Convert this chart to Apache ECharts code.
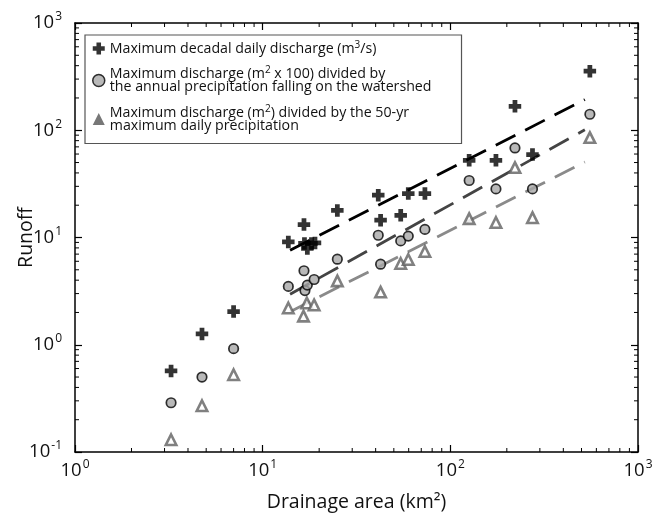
<!DOCTYPE html>
<html>
<head>
<meta charset="utf-8">
<script src="https://cdn.jsdelivr.net/npm/echarts@6/dist/echarts.min.js"></script>
<style>
html,body{margin:0;padding:0;background:#fff;}
#chart{width:652px;height:513px;}
</style>
</head>
<body>
<div id="chart"></div>
<script>
// Maximum decadal daily discharge (m3/s)
const decadalArea = [3.25, 4.75, 7.0, 13.7, 16.6, 16.7, 17.3, 18.2, 19.0, 25.0, 41.3, 42.5, 54.4, 59.7, 73.2, 126, 175, 221, 274, 554];
const decadalQ    = [0.57, 1.26, 2.04, 9.1, 13.2, 8.8, 7.9, 8.8, 8.9, 17.9, 24.8, 14.5, 16.1, 25.7, 25.7, 52.5, 52.5, 167, 59.4, 355];
// Maximum discharge (m2 x 100) / annual precipitation
const annualArea = [3.25, 4.75, 7.0, 13.7, 16.6, 16.8, 17.3, 18.8, 25.0, 41.3, 42.5, 54.4, 59.7, 73.2, 126, 175, 221, 274, 554];
const annualQ    = [0.288, 0.50, 0.92, 3.5, 4.9, 3.2, 3.6, 4.06, 6.28, 10.5, 5.64, 9.3, 10.3, 11.9, 34, 28.4, 68.4, 28.4, 141];
// Maximum discharge (m2) / 50-yr max daily precipitation
const precipArea = [3.25, 4.75, 7.0, 13.7, 16.5, 17.2, 18.8, 25.0, 42.5, 54.4, 59.7, 73.2, 126, 175, 221, 274, 554];
const precipQ    = [0.13, 0.27, 0.525, 2.2, 1.85, 2.45, 2.35, 3.94, 3.1, 5.72, 6.24, 7.4, 15.0, 13.8, 44.9, 15.3, 85.5];
// Fitted trend lines (end points)
const trendArea = [14, 521];
const trendDecadal = [7.6, 193];
const trendAnnual = [2.96, 101];
const trendPrecip = [2.03, 50.7];
// Axis settings
const xTicks = [1, 10, 100, 1000];
const yTicks = [0.1, 1, 10, 100, 1000];
const minorMult = [2, 3, 4, 5, 6, 7, 8, 9];

const names = [
  'Maximum decadal daily discharge (m{sup|3}/s)',
  'Maximum discharge (m{sup|2} x 100) divided by\nthe annual precipitation falling on the watershed',
  'Maximum discharge (m{sup|2}) divided by the 50-yr\nmaximum daily precipitation'
];

function zip(a, b) { return a.map((v, i) => [v, b[i]]); }
function minorVals(lo, hi) {
  const out = [];
  for (let d = lo; d < hi; d *= 10) minorMult.forEach(m => out.push(d * m));
  return out;
}
const xMinor = minorVals(xTicks[0], xTicks[xTicks.length - 1]);
const yMinor = minorVals(yTicks[0], yTicks[yTicks.length - 1]);

const FONT = '"Open Sans", "Noto Sans", sans-serif';
const crossPath = 'path://M31,0 H69 V31 H100 V69 H69 V100 H31 V69 H0 V31 H31 Z';

function expLabel(v) {
  const e = Math.round(Math.log10(v));
  return '{b|10}{s|' + e + '}';
}
const labelRich = {
  b: { fontSize: 18.5, fontFamily: FONT, color: '#111', lineHeight: 24 },
  s: { fontSize: 12, fontFamily: FONT, color: '#111', lineHeight: 24, padding: [0, 0, 12, 1] }
};

const baseAxis = {
  type: 'log', logBase: 10,
  nameMoveOverlap: false,
  axisLine: { show: true, lineStyle: { color: '#000', width: 1.5 } },
  axisTick: { show: true, inside: true, length: 7, lineStyle: { color: '#000', width: 1.2 } },
  splitLine: { show: false },
  minorTick: { show: false }
};

function tickSeries(axisIsX, vals) {
  return {
    type: 'custom',
    silent: true,
    xAxisIndex: 0, yAxisIndex: 0,
    data: vals.map(v => axisIsX ? [v, yTicks[0]] : [xTicks[0], v]),
    renderItem: function (params, api) {
      const v = axisIsX ? api.value(0) : api.value(1);
      const L = 4;
      let a, b;
      if (axisIsX) {
        a = api.coord([v, yTicks[0]]); b = api.coord([v, yTicks[yTicks.length - 1]]);
        return { type: 'group', children: [
          { type: 'line', shape: { x1: a[0], y1: a[1], x2: a[0], y2: a[1] - L }, style: { stroke: '#000', lineWidth: 1 } },
          { type: 'line', shape: { x1: b[0], y1: b[1], x2: b[0], y2: b[1] + L }, style: { stroke: '#000', lineWidth: 1 } }
        ]};
      } else {
        a = api.coord([xTicks[0], v]); b = api.coord([xTicks[xTicks.length - 1], v]);
        return { type: 'group', children: [
          { type: 'line', shape: { x1: a[0], y1: a[1], x2: a[0] + L, y2: a[1] }, style: { stroke: '#000', lineWidth: 1 } },
          { type: 'line', shape: { x1: b[0], y1: b[1], x2: b[0] - L, y2: b[1] }, style: { stroke: '#000', lineWidth: 1 } }
        ]};
      }
    },
    z: 1
  };
}

const chart = echarts.init(document.getElementById('chart'), null, { renderer: 'canvas' });
chart.setOption({
  animation: false,
  backgroundColor: '#fff',
  grid: { left: 75, right: 14, top: 23, bottom: 61, containLabel: false, outerBoundsMode: 'none' },
  xAxis: [
    Object.assign({}, baseAxis, {
      min: xTicks[0], max: xTicks[xTicks.length - 1], position: 'bottom',
      name: 'Drainage area (km²)', nameLocation: 'middle', nameGap: 40,
      nameTextStyle: { fontSize: 19.5, fontFamily: FONT, color: '#111' },
      axisLabel: { margin: 7, formatter: expLabel, rich: labelRich }
    }),
    Object.assign({}, baseAxis, {
      min: xTicks[0], max: xTicks[xTicks.length - 1], position: 'top', axisLabel: { show: false }
    })
  ],
  yAxis: [
    Object.assign({}, baseAxis, {
      min: yTicks[0], max: yTicks[yTicks.length - 1], position: 'left',
      name: 'Runoff', nameLocation: 'middle', nameGap: 39,
      nameTextStyle: { fontSize: 19.5, fontFamily: FONT, color: '#111' },
      axisLabel: { margin: 13, formatter: expLabel, rich: labelRich }
    }),
    Object.assign({}, baseAxis, {
      min: yTicks[0], max: yTicks[yTicks.length - 1], position: 'right', axisLabel: { show: false }
    })
  ],
  legend: {
    orient: 'vertical', left: 85, top: 35,
    padding: [5, 30, 11, 7], itemGap: 10,
    itemWidth: 12, itemHeight: 12,
    borderColor: '#555', borderWidth: 1.2, borderRadius: 0,
    backgroundColor: '#fff',
    textStyle: {
      fontSize: 14.2, fontFamily: FONT, color: '#111', lineHeight: 13,
      rich: { sup: { fontSize: 10, fontFamily: FONT, color: '#111', padding: [0, 0, 7, 0] } }
    },
    data: [
      { name: names[0], icon: crossPath, itemStyle: { color: '#000', borderWidth: 0 } },
      { name: names[1], icon: 'circle', itemStyle: { color: '#a8a8a8', borderColor: '#000', borderWidth: 1.5 } },
      { name: names[2], icon: 'triangle', itemStyle: { color: '#555', borderWidth: 0 } }
    ]
  },
  series: [
    tickSeries(true, xMinor),
    tickSeries(false, yMinor),
    {
      type: 'line', data: zip(trendArea, trendDecadal), symbol: 'none', silent: true,
      lineStyle: { color: '#000', width: 2.8, type: [22, 11] }, z: 2
    },
    {
      type: 'line', data: zip(trendArea, trendAnnual), symbol: 'none', silent: true,
      lineStyle: { color: '#444', width: 2.8, type: [22, 11] }, z: 2
    },
    {
      type: 'line', data: zip(trendArea, trendPrecip), symbol: 'none', silent: true,
      lineStyle: { color: '#8a8a8a', width: 2.8, type: [22, 11] }, z: 2
    },
    {
      name: names[0], type: 'scatter', data: zip(decadalArea, decadalQ),
      symbol: crossPath, symbolSize: 12.5,
      itemStyle: { color: '#000' }, z: 5
    },
    {
      name: names[1], type: 'scatter', data: zip(annualArea, annualQ),
      symbol: 'circle', symbolSize: 9.5,
      itemStyle: { color: '#a8a8a8', borderColor: '#000', borderWidth: 1.7 }, z: 4
    },
    {
      name: names[2], type: 'scatter', data: zip(precipArea, precipQ),
      symbol: 'triangle', symbolSize: 10.5,
      itemStyle: { color: '#fff', borderColor: '#606060', borderWidth: 2.6 }, z: 3
    }
  ]
});
</script>
</body>
</html>
